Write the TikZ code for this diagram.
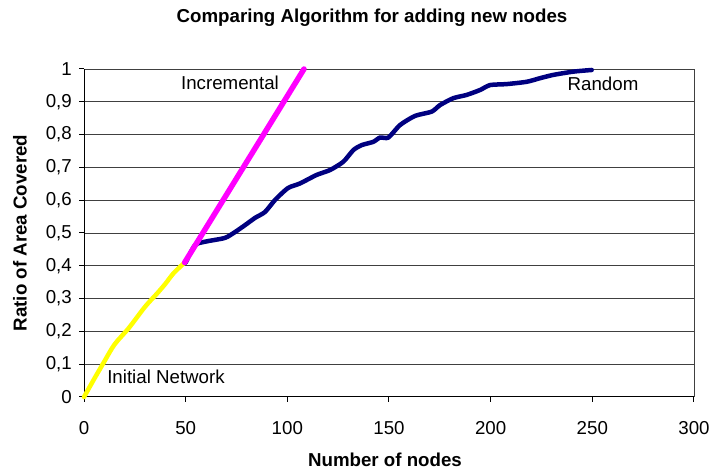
\documentclass[tikz,border=0pt]{standalone}
\usepackage{fontspec}
\setmainfont{Liberation Sans}
\definecolor{randblue}{HTML}{000080}
\definecolor{incmag}{HTML}{FF00FF}
\definecolor{inityel}{HTML}{FFFF00}
\tikzset{
  lbl/.style={font=\fontsize{18.7}{22}\selectfont, inner sep=0pt},
  ttl/.style={font=\fontsize{18.7}{22}\selectfont\bfseries, inner sep=0pt},
  grid line/.style={draw=black!75, line width=0.9pt},
  axis line/.style={draw=black, line width=1pt},
  series/.style={line width=4.5pt, line join=round, line cap=round},
}
\begin{document}
\begin{tikzpicture}[x=1pt,y=1pt]
\useasboundingbox[fill=white] (0,0) rectangle (712,471);
\node[ttl] (title) at (372,453) {Comparing Algorithm for adding new nodes};
\node[ttl] (xtitle) at (385,11) {Number of nodes};
\node[ttl, rotate=90] (ytitle) at (20,238) {Ratio of Area Covered};
\begin{scope}[x=2.0333pt, y=328pt, shift={(84pt,74pt)}]
  % horizontal grid and frame
  \foreach \v in {0.1,0.2,...,1.01} \draw[grid line] (0,\v) -- (300,\v);
  \draw[grid line] (300,0) -- (300,1);
  \draw[axis line] (0,0) -- (300,0);
  \draw[axis line] (0,0) -- (0,1);
  % y ticks and labels
  \foreach \v/\t in {0/0,0.1/{0,1},0.2/{0,2},0.3/{0,3},0.4/{0,4},0.5/{0,5},0.6/{0,6},0.7/{0,7},0.8/{0,8},0.9/{0,9},1/1} {
    \draw[axis line] (0,\v) -- ++(-5pt,0);
    \node[lbl, anchor=east] (yl\v) at ([xshift=-12pt]0,\v) {\t};
  }
  % x ticks and labels
  \foreach \n in {0,50,...,300} {
    \draw[axis line] (\n,0) -- ++(0,-5pt);
    \node[lbl] (xl\n) at ([yshift=-31pt]\n,0) {\n};
  }
  % initial network
  \draw[series, draw=inityel] plot[smooth, tension=0.5] coordinates {
    (0,0) (5,0.055) (9.5,0.103) (15,0.16) (22,0.21) (30,0.275) (36,0.316) (40,0.345) (44,0.377) (49.5,0.41)};
  % random placement
  \draw[series, draw=randblue] plot[smooth, tension=0.4] coordinates {
    (50,0.41) (54.6,0.463) (60,0.474) (69.3,0.485) (74.3,0.503) (79.2,0.524) (84.1,0.546) (89,0.564)
    (94,0.601) (100.3,0.637) (106.2,0.651) (114.4,0.677) (121,0.692) (127.5,0.717) (132.5,0.753)
    (136.6,0.768) (142.3,0.778) (145.6,0.791) (149.7,0.791) (155.4,0.829) (162.8,0.857) (171,0.870)
    (175.1,0.890) (181.6,0.911) (188.2,0.921) (194.8,0.936) (199.7,0.951) (207.9,0.954) (217.7,0.961)
    (224.3,0.972) (230.8,0.982) (240.7,0.992) (249.7,0.997)};
  % incremental placement
  \draw[series, line width=5.5pt, draw=incmag] (49.5,0.41) -- (108.2,1.0);
\end{scope}
\node[lbl] (inc) at (230,388) {Incremental};
\node[lbl] (rnd) at (603,387) {Random};
\node[lbl] (init) at (166,94) {Initial Network};
\end{tikzpicture}
\end{document}
